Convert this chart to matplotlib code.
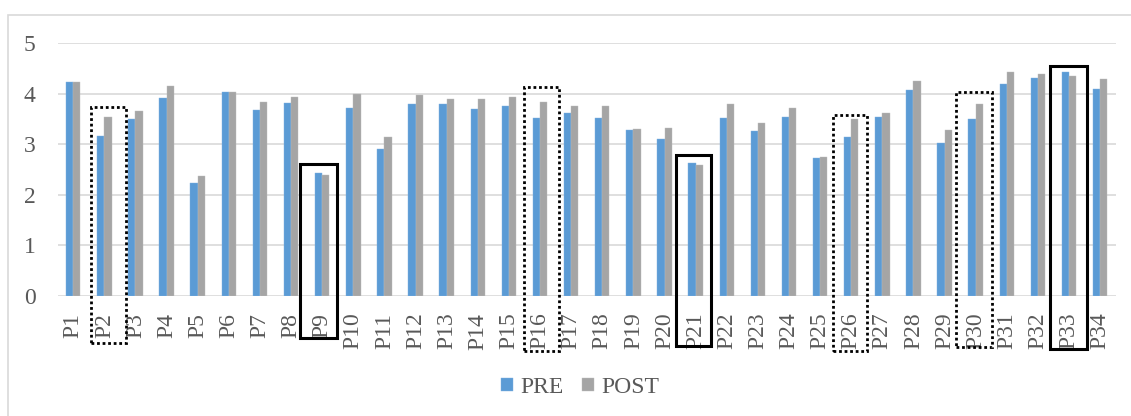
import numpy as np
import matplotlib
matplotlib.use("Agg")
import matplotlib.pyplot as plt
from matplotlib.patches import Rectangle

# participants and mean scores before / after
labels = ["P%d" % i for i in range(1, 35)]
pre = [4.24, 3.16, 3.50, 3.92, 2.23, 4.04, 3.68, 3.81, 2.44, 3.71,
       2.90, 3.79, 3.79, 3.70, 3.75, 3.52, 3.63, 3.52, 3.29, 3.10,
       2.63, 3.52, 3.26, 3.54, 2.73, 3.14, 3.54, 4.08, 3.02, 3.50,
       4.19, 4.32, 4.44, 4.09]
post = [4.24, 3.54, 3.66, 4.15, 2.38, 4.04, 3.83, 3.93, 2.40, 3.99,
        3.14, 3.97, 3.90, 3.90, 3.93, 3.83, 3.75, 3.75, 3.30, 3.32,
        2.59, 3.80, 3.42, 3.71, 2.75, 3.50, 3.63, 4.25, 3.28, 3.80,
        4.44, 4.40, 4.36, 4.29]

# highlighted participants: name, frame style, top, bottom, left/right offsets
hl_names = ["P2", "P9", "P16", "P21", "P26", "P30", "P33"]
hl_style = ["dotted", "solid", "dotted", "solid", "dotted", "dotted", "solid"]
hl_top = [3.73, 2.61, 4.14, 2.79, 3.58, 4.04, 4.55]
hl_bottom = [-0.94, -0.84, -1.08, -0.98, -1.08, -1.01, -1.04]
hl_left = [-0.44, -0.71, -0.52, -0.63, -0.58, -0.64, -0.62]
hl_right = [0.68, 0.49, 0.62, 0.51, 0.50, 0.51, 0.58]

plt.rcParams['font.family'] = ['Liberation Serif', 'DejaVu Serif']
txt = '#595959'

fig = plt.figure(figsize=(11.31, 4.16), dpi=100)
ax = fig.add_axes([0.051, 0.2885, 0.9355, 0.6075])

x = np.arange(len(labels))
w = 0.232
ax.bar(x - w / 2, pre, w, color='#5B9BD5', edgecolor='#7FB1E0', linewidth=0.3, label='PRE', zorder=3)
ax.bar(x + w / 2, post, w, color='#A5A5A5', edgecolor='#BDBDBD', linewidth=0.3, label='POST', zorder=3)

ax.set_xlim(-0.5, len(labels) - 0.5)
ax.set_ylim(0, 5)
ax.set_yticks(range(6))
ax.yaxis.grid(True, color='#D9D9D9', linewidth=1.2, zorder=0)
for s in ax.spines.values():
    s.set_visible(False)
ax.tick_params(length=0)
ax.tick_params(axis='y', pad=16, labelsize=17, labelcolor=txt)
ax.set_xticks(x)
ax.set_xticklabels(labels, rotation=90, fontsize=17, color=txt)
ax.tick_params(axis='x', pad=12)

# frames around selected participants
for name, st, top, bot, l, r in zip(hl_names, hl_style, hl_top, hl_bottom, hl_left, hl_right):
    i = labels.index(name)
    if st == 'dotted':
        ls, lw = (0, (1, 1)), 2.0
    else:
        ls, lw = '-', 2.2
    ax.add_patch(Rectangle((i + l, bot), r - l, top - bot, fill=False,
                           edgecolor='black', linestyle=ls, linewidth=lw,
                           clip_on=False, zorder=5))

leg = fig.legend(loc='center', bbox_to_anchor=(0.513, 0.068), ncol=2, frameon=False,
                 fontsize=17, handlelength=0.5, handleheight=0.45,
                 handletextpad=0.3, columnspacing=0.8)
for t in leg.get_texts():
    t.set_color(txt)

# outer chart border
fig.patches.append(Rectangle((8 / 1131, -0.1), 1.2, 1 - 15 / 416 + 0.1, fill=False,
                             edgecolor='#D9D9D9', linewidth=1.2,
                             transform=fig.transFigure, figure=fig))

fig.savefig('out.png', dpi=100)
